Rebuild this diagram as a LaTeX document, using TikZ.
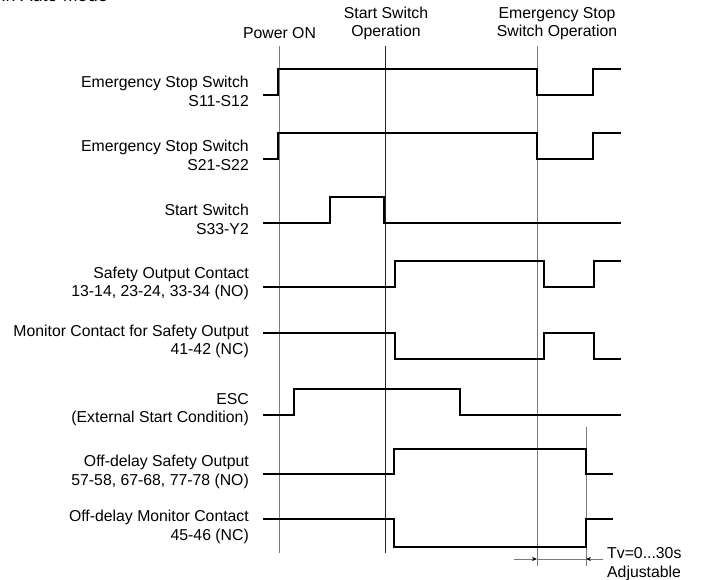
\documentclass[tikz,border=0pt]{standalone}
\usepackage{fontspec}
\setmainfont{Liberation Sans}
\usetikzlibrary{arrows.meta}
\definecolor{markgray}{HTML}{7A7A7A}
\tikzset{
  label/.style={font=\fontsize{15.8}{18.6}\selectfont,align=right,anchor=east,inner sep=0pt},
  event/.style={font=\fontsize{15.8}{18.6}\selectfont,align=center,inner sep=0pt},
  note/.style={font=\fontsize{15.8}{18.6}\selectfont,align=left,anchor=west,inner sep=0pt},
  marker/.style={draw=markgray,line width=0.9pt},
  wave/.style={draw=black,line width=2.3pt,line join=miter},
  dim/.style={draw=markgray,line width=0.8pt},
  dimarr/.style={-{Stealth[length=5pt,width=4pt,color=black]},draw=markgray,line width=0.8pt}
}
\begin{document}
\begin{tikzpicture}[x=1pt,y=-1pt]
\path[use as bounding box] (0,0) rectangle (704,580);
\node[font=\fontsize{18}{20}\selectfont,anchor=base east,inner sep=0pt] (title) at (108,1.8) {in Auto Mode};

% event markers
\coordinate (pwr) at (279,46);
\coordinate (st) at (385,46);
\coordinate (es) at (537,46);
\coordinate (tv) at (586,427);
\draw[marker] (pwr)--++(0,507);
\draw[marker,draw=black!85,line width=0.7pt] (st)--++(0,507);
\draw[marker] (es)--++(0,520);
\draw[marker] (tv)--++(0,139);
\node[event] (lpwr) at (279.5,33) {Power ON};
\node[event] (lst) at (386,23.5) {Start Switch\\Operation};
\node[event] (les) at (557,23.5) {Emergency Stop\\Switch Operation};

% signal names
\node[label] (s1) at (249,91.5) {Emergency Stop Switch\\S11-S12};
\node[label] (s2) at (249,155.5) {Emergency Stop Switch\\S21-S22};
\node[label] (s3) at (249,219.5) {Start Switch\\S33-Y2};
\node[label] (s4) at (249,283.5) {Safety Output Contact\\13-14, 23-24, 33-34 (NO)};
\node[label] (s5) at (249,341.5) {Monitor Contact for Safety Output\\41-42 (NC)};
\node[label] (s6) at (249,409.5) {ESC\\(External Start Condition)};
\node[label] (s7) at (249,472) {Off-delay Safety Output\\57-58, 67-68, 77-78 (NO)};
\node[label] (s8) at (249,527) {Off-delay Monitor Contact\\45-46 (NC)};

% waveforms
\draw[wave] (263,95)--(278,95)--(278,69)--(537,69)--(537,95)--(593,95)--(593,69)--(621,69);
\draw[wave] (263,159)--(278,159)--(278,133)--(537,133)--(537,159)--(593,159)--(593,133)--(621,133);
\draw[wave] (263,223)--(330,223)--(330,197)--(384,197)--(384,223)--(621,223);
\draw[wave] (263,287)--(395,287)--(395,261)--(544,261)--(544,287)--(594,287)--(594,261)--(621,261);
\draw[wave] (263,333)--(395,333)--(395,359)--(544,359)--(544,333)--(594,333)--(594,359)--(621,359);
\draw[wave] (263,415)--(294,415)--(294,389)--(460,389)--(460,415)--(621,415);
\draw[wave] (263,474)--(394,474)--(394,449)--(586,449)--(586,474)--(613,474);
\draw[wave] (263,519)--(394,519)--(394,547)--(586,547)--(586,519)--(613,519);

% off-delay time
\coordinate (d0) at (514,559);
\coordinate (d1) at (537,559);
\coordinate (d2) at (586,559);
\coordinate (d3) at (603,559);
\draw[dimarr] (d0)--(d1);
\draw[dim] (d1)--(d2);
\draw[dimarr] (d3)--(d2);
\node[note] (ltv) at (607,564) {Tv=0...30s\\Adjustable};
\end{tikzpicture}
\end{document}
